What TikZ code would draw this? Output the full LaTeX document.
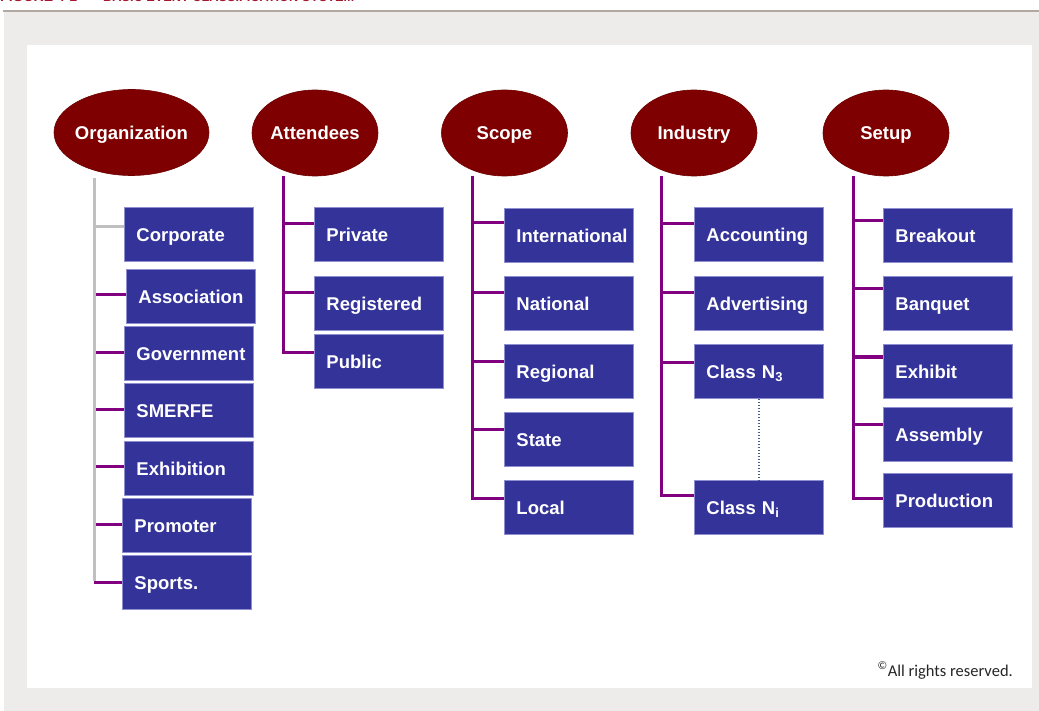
\documentclass[tikz,border=0pt]{standalone}
\usepackage{fontspec}
\setmainfont{Liberation Sans}
\newfontfamily\notefont{Carlito}
\usetikzlibrary{shapes.geometric,calc}
\definecolor{panelgray}{HTML}{EDECEA}
\definecolor{rulegray}{HTML}{B2AAA2}
\definecolor{titlered}{HTML}{A3172F}
\definecolor{maroonfill}{HTML}{7F0000}
\definecolor{boxblue}{HTML}{333399}
\definecolor{boxedge}{HTML}{8E8ED0}
\definecolor{branchpurple}{HTML}{800080}
\definecolor{trunkgray}{HTML}{C0C0C0}
\definecolor{dotblue}{HTML}{3E5C8C}
% a branch from a trunk to the left edge of a box, #2 below its top
\newcommand\branchto[4]{%
  \coordinate (#1-in) at ($(#1.north west)+(0,#2)$);
  \draw[#4] (#3 |- #1-in) -- (#1-in);}
\begin{document}
\begin{tikzpicture}[x=1pt,y=-1pt,
  cat/.style={ellipse, fill=maroonfill, draw=maroonfill!85!black, line width=0.6pt,
    minimum width=126pt, minimum height=86pt, inner sep=0pt},
  cattext/.style={text=white, font=\bfseries\fontsize{18.5}{20}\selectfont,
    inner sep=0pt, text height=13.2pt, text depth=0pt},
  item/.style={anchor=north west, fill=boxblue, draw=boxedge, line width=0.9pt,
    text=white, font=\bfseries\fontsize{18.5}{20}\selectfont,
    text width=129pt, inner xsep=0pt, inner ysep=0pt, minimum height=54pt,
    text height=13.2pt, text depth=0pt, align=left,
    execute at begin node=\hspace*{12pt}},
  pline/.style={draw=branchpurple, line width=3pt},
  gline/.style={draw=trunkgray, line width=3pt},
  titletext/.style={text=titlered, font=\bfseries\fontsize{14}{16}\selectfont,
    inner sep=0pt, anchor=base west},
]
\useasboundingbox (0,0) rectangle (1039,711);

% page background, rule and white panel
\fill[white] (0,0) rectangle (1039,711);
\fill[panelgray] (4,12) rectangle (1039,711);
\fill[rulegray] (3,10) rectangle (1039,12.5);
\fill[white] (27,45) rectangle (1032,688);

% figure caption, mostly above the page edge
\node[titletext] (fignum) at (0,1.5) {FIGURE 4-1};
\node[titletext, xscale=0.91] (figtitle) at (103,1.5) {BASIC EVENT CLASSIFICATION SYSTEM};

% category ellipses
\node[cat, minimum width=155pt, label={[cattext]center:Organization}] (org) at (131.5,132.5) {};
\node[cat, label={[cattext]center:Attendees}] (att) at (315,133) {};
\node[cat, label={[cattext]center:Scope}] (scope) at (504.5,133) {};
\node[cat, label={[cattext]center:Industry}] (ind) at (694,133) {};
\node[cat, label={[cattext]center:Setup}] (setup) at (886,133) {};

% Organization column
\node[item] (corp)   at (124,207) {Corporate};
\node[item] (assoc)  at (126,269) {Association};
\node[item] (gov)    at (124,326) {Government};
\node[item] (smerfe) at (124,383) {SMERFE};
\node[item] (exhib)  at (124,441) {Exhibition};
\node[item] (promo)  at (122,498) {Promoter};
\node[item] (sports) at (122,555) {Sports.};

% Attendees column
\node[item] (priv) at (314,207) {Private};
\node[item] (reg)  at (314,276) {Registered};
\node[item] (pub)  at (314,334) {Public};

% Scope column
\node[item] (intl)  at (504,208) {International};
\node[item] (natl)  at (504,276) {National};
\node[item] (regl)  at (504,344) {Regional};
\node[item] (state) at (504,412) {State};
\node[item] (local) at (504,480) {Local};

% Industry column
\node[item] (acct) at (694,207) {Accounting};
\node[item] (adv)  at (694,276) {Advertising};
\node[item] (n3)   at (694,344) {Class N\textsubscript{3}};
\node[item] (ni)   at (694,480) {Class N\textsubscript{i}};

% Setup column
\node[item] (brk)  at (883,208) {Breakout};
\node[item] (banq) at (883,276) {Banquet};
\node[item] (exh)  at (883,344) {Exhibit};
\node[item] (asm)  at (883,407) {Assembly};
\node[item] (prod) at (883,473) {Production};

% trunk tops under each ellipse
\coordinate (orgT)   at ($(org.south)+(-37.5,2)$);
\coordinate (attT)   at ($(att.south)+(-32,0)$);
\coordinate (scopeT) at ($(scope.south)+(-32.5,0)$);
\coordinate (indT)   at ($(ind.south)+(-33,0)$);
\coordinate (setupT) at ($(setup.south)+(-33,0)$);

% Organization branches
\branchto{corp}{20}{orgT}{gline}
\branchto{assoc}{26}{orgT}{pline}
\branchto{gov}{27}{orgT}{pline}
\branchto{smerfe}{26}{orgT}{pline}
\branchto{exhib}{25}{orgT}{pline}
\branchto{promo}{26}{orgT}{pline}
\branchto{sports}{27}{orgT}{pline}
\draw[gline] (orgT) -- ($(orgT |- sports-in)+(0,-1)$);

% Attendees branches
\branchto{priv}{17}{attT}{pline}
\branchto{reg}{17}{attT}{pline}
\coordinate (pub-in) at ($(pub.north west)+(0,19)$);
\draw[pline] (attT) |- (pub-in);

% Scope branches
\branchto{intl}{15}{scopeT}{pline}
\branchto{natl}{17}{scopeT}{pline}
\branchto{regl}{17}{scopeT}{pline}
\branchto{state}{17}{scopeT}{pline}
\coordinate (local-in) at ($(local.north west)+(0,18)$);
\draw[pline] (scopeT) |- (local-in);

% Industry branches
\branchto{acct}{17}{indT}{pline}
\branchto{adv}{17}{indT}{pline}
\branchto{n3}{18}{indT}{pline}
\coordinate (ni-in) at ($(ni.north west)+(0,15)$);
\draw[pline] (indT) |- (ni-in);
\draw[dotblue, line width=1.4pt, dash pattern=on 1.4pt off 1.6pt] (n3.south) -- (ni.north);

% Setup branches
\branchto{brk}{13}{setupT}{pline}
\branchto{banq}{13}{setupT}{pline}
\branchto{exh}{13}{setupT}{pline}
\branchto{asm}{17}{setupT}{pline}
\coordinate (prod-in) at ($(prod.north west)+(0,25)$);
\draw[pline] (setupT) |- (prod-in);

% copyright note
\node[anchor=base east, inner sep=0pt, text=black!85,
  font=\notefont\fontsize{16.5}{18}\selectfont] (note) at (1013,676)
  {\textsuperscript{©}All rights reserved.};
\end{tikzpicture}
\end{document}
